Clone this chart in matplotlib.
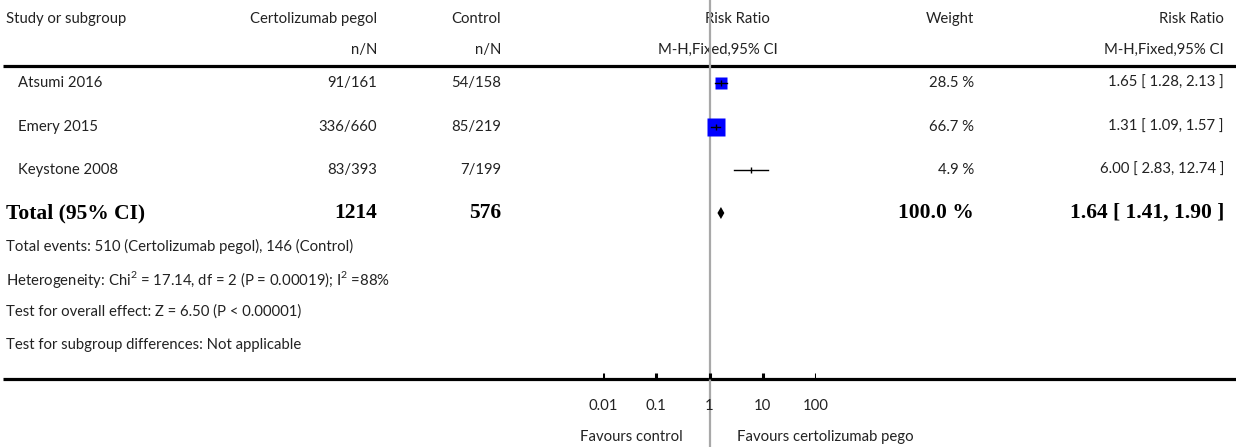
"""
Forest plot: Certolizumab pegol vs Control (Risk Ratio, M-H fixed)
"""

import numpy as np
import matplotlib
matplotlib.use("Agg")
import matplotlib.pyplot as plt

# ─── Data ─────────────────────────────────────────────────────────────────────

studies      = ["Atsumi 2016", "Emery 2015", "Keystone 2008"]
cert_events  = [91, 336, 83]
cert_total   = [161, 660, 393]
ctrl_events  = [54, 85, 7]
ctrl_total   = [158, 219, 199]
weights      = [28.5, 66.7, 4.9]
rr           = [1.65, 1.31, 6.00]
rr_lo        = [1.28, 1.09, 2.83]
rr_hi        = [2.13, 1.57, 12.74]

total_weight = 100.0
total_rr, total_lo, total_hi = 1.64, 1.41, 1.90
tick_vals   = [0.01, 0.1, 1, 10, 100]
tick_labels = ["0.01", "0.1", "1", "10", "100"]

footnotes = [
    "Total events: {} (Certolizumab pegol), {} (Control)",
    "Heterogeneity: Chi$^{2}$ = 17.14, df = 2 (P = 0.00019); I$^{2}$ =88%",
    "Test for overall effect: Z = 6.50 (P < 0.00001)",
    "Test for subgroup differences: Not applicable",
]

# ─── Layout (pixels) ──────────────────────────────────────────────────────────

W, H = 1236, 447
ROW_Y   = [83, 127, 170]
TOTAL_Y = 213
FOOT_Y  = [246, 279, 312, 345]
HEAD_Y  = [19, 50]
X_LEFT, X_STUDY = 6, 18
COL_CERT, COL_CTRL, COL_W, COL_RR = 377, 501, 974, 1224

plt.rcParams["font.family"] = ["Lato", "DejaVu Sans"]
plt.rcParams["mathtext.fontset"] = "custom"
plt.rcParams["mathtext.rm"] = "Lato"
TXT = dict(fontsize=10.75, color="#222222", va="center")
BOLD = dict(fontsize=15.5, color="black", va="center",
            family="Liberation Serif", fontweight="bold")

fig = plt.figure(figsize=(W / 100, H / 100), dpi=100)
tab = fig.add_axes([0, 0, 1, 1])
tab.set_xlim(0, W)
tab.set_ylim(H, 0)
tab.axis("off")

# forest panel: log scale, 0.01 .. 100
fx0, fx1 = 603, 816
forest = fig.add_axes([fx0 / W, 0, (fx1 - fx0) / W, 1])
forest.set_xscale("log")
forest.set_xlim(0.01, 100)
forest.set_ylim(H, 0)
forest.axis("off")

# ─── Headers ──────────────────────────────────────────────────────────────────

tab.text(X_LEFT, HEAD_Y[0], "Study or subgroup", ha="left", **TXT)
tab.text(COL_CERT, HEAD_Y[0], "Certolizumab pegol", ha="right", **TXT)
tab.text(COL_CTRL, HEAD_Y[0], "Control", ha="right", **TXT)
tab.text(737, HEAD_Y[0], "Risk Ratio", ha="center", **TXT)
tab.text(COL_W, HEAD_Y[0], "Weight", ha="right", **TXT)
tab.text(COL_RR, HEAD_Y[0], "Risk Ratio", ha="right", **TXT)

tab.text(COL_CERT, HEAD_Y[1], "n/N", ha="right", **TXT)
tab.text(COL_CTRL, HEAD_Y[1], "n/N", ha="right", **TXT)
tab.text(718, HEAD_Y[1], "M-H,Fixed,95% CI", ha="center", **TXT)
tab.text(COL_RR, HEAD_Y[1], "M-H,Fixed,95% CI", ha="right", **TXT)

tab.plot([3, W], [65.5, 65.5], color="black", lw=2.3, solid_capstyle="butt")
tab.plot([3, W], [379, 379], color="black", lw=2.3, solid_capstyle="butt")

# ─── Study rows ───────────────────────────────────────────────────────────────

max_w = max(weights)
for i, name in enumerate(studies):
    y = ROW_Y[i]
    tab.text(X_STUDY, y, name, ha="left", **TXT)
    tab.text(COL_CERT, y, f"{cert_events[i]}/{cert_total[i]}", ha="right", **TXT)
    tab.text(COL_CTRL, y, f"{ctrl_events[i]}/{ctrl_total[i]}", ha="right", **TXT)
    tab.text(COL_W, y, f"{weights[i]:.1f} %", ha="right", **TXT)
    tab.text(COL_RR, y, f"{rr[i]:.2f} [ {rr_lo[i]:.2f}, {rr_hi[i]:.2f} ]",
             ha="right", **TXT)

    # square area proportional to weight (tiny weights get no box)
    if weights[i] >= 5:
        size = 13.0 * np.sqrt(weights[i] / max_w)
        forest.plot(rr[i], y, marker="s", ms=size, color="#0000ff",
                    mec="none", zorder=3)
    forest.plot([rr_lo[i], rr_hi[i]], [y, y], color="black", lw=1.0, zorder=4)
    forest.plot(rr[i], y, marker="|", ms=4, mew=1.0, color="black", zorder=4)

# ─── Total row ────────────────────────────────────────────────────────────────

tab.text(X_LEFT, TOTAL_Y, "Total (95% CI)", ha="left", **BOLD)
tab.text(COL_CERT, TOTAL_Y, f"{sum(cert_total)}", ha="right", **BOLD)
tab.text(COL_CTRL, TOTAL_Y, f"{sum(ctrl_total)}", ha="right", **BOLD)
tab.text(COL_W, TOTAL_Y, f"{total_weight:.1f} %", ha="right", **BOLD)
tab.text(COL_RR, TOTAL_Y, f"{total_rr:.2f} [ {total_lo:.2f}, {total_hi:.2f} ]",
         ha="right", **BOLD)

dh = 6
forest.fill([total_lo, total_rr, total_hi, total_rr],
            [TOTAL_Y, TOTAL_Y - dh, TOTAL_Y, TOTAL_Y + dh],
            color="black", lw=0, zorder=4)

# ─── Footnotes ────────────────────────────────────────────────────────────────

notes = list(footnotes)
notes[0] = notes[0].format(sum(cert_events), sum(ctrl_events))
for y, note in zip(FOOT_Y, notes):
    tab.text(X_LEFT, y, note, ha="left", **TXT)

# ─── Axis ─────────────────────────────────────────────────────────────────────

forest.axvline(1, color="#a8a8a8", lw=1.6, zorder=1)
for v, lab in zip(tick_vals, tick_labels):
    forest.plot([v, v], [379, 373], color="black", lw=2.2, solid_capstyle="butt")
    forest.text(v, 406, lab, ha="center", **TXT)

tab.text(683, 437, "Favours control", ha="right", **TXT)
tab.text(737, 437, "Favours certolizumab pego", ha="left", **TXT)

plt.savefig("out.png", dpi=100)
plt.close()
